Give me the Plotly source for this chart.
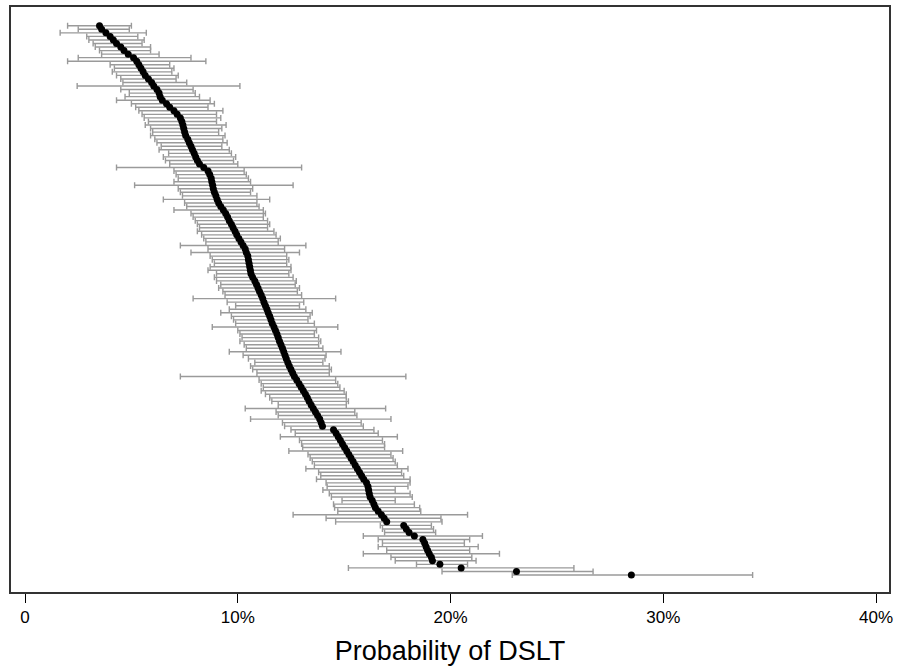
import plotly.graph_objects as go

# Estimated probability of DSLT (%) per unit, sorted ascending (top to bottom)
estimate = [
    3.5, 3.6, 3.8, 4.0, 4.15, 4.3, 4.5, 4.65, 4.85, 5.1,
    5.25, 5.35, 5.45, 5.55, 5.65, 5.8, 5.95, 6.05, 6.2, 6.3,
    6.35, 6.45, 6.65, 6.8, 7.0, 7.15, 7.3, 7.37, 7.42, 7.46,
    7.5, 7.55, 7.65, 7.72, 7.8, 7.87, 7.95, 8.02, 8.1, 8.2,
    8.4, 8.6, 8.68, 8.75, 8.78, 8.82, 8.85, 8.9, 8.97, 9.03,
    9.1, 9.2, 9.32, 9.43, 9.52, 9.6, 9.7, 9.78, 9.87, 9.95,
    10.05, 10.15, 10.25, 10.35, 10.4, 10.47, 10.5, 10.53, 10.56, 10.59,
    10.62, 10.7, 10.8, 10.88, 10.95, 11.02, 11.1, 11.17, 11.23, 11.3,
    11.37, 11.43, 11.5, 11.56, 11.62, 11.7, 11.77, 11.84, 11.9, 11.96,
    12.03, 12.1, 12.16, 12.22, 12.28, 12.35, 12.42, 12.5, 12.58, 12.66,
    12.77, 12.88, 12.98, 13.08, 13.18, 13.27, 13.35, 13.45, 13.55, 13.65,
    13.75, 13.85, 13.92, 13.98, 14.5, 14.62, 14.72, 14.82, 14.92, 15.02,
    15.12, 15.22, 15.32, 15.42, 15.52, 15.62, 15.72, 15.82, 15.92, 16.05,
    16.12, 16.15, 16.18, 16.22, 16.32, 16.4, 16.47, 16.6, 16.75, 16.88,
    17.0, 17.8, 17.92, 18.05, 18.3, 18.7, 18.78, 18.85, 18.92, 19.0,
    19.1, 19.15, 19.5, 20.5, 23.1, 28.5,
]

ci_lower = [
    2.0, 2.5, 1.65, 2.9, 3.0, 3.2, 3.3, 3.5, 3.6, 2.5,
    2.0, 4.0, 4.2, 4.1, 4.3, 4.5, 4.6, 2.45, 4.5, 4.9,
    4.7, 4.3, 5.0, 5.2, 5.35, 5.5, 5.6, 5.8, 5.65, 5.9,
    6.0, 5.9, 6.1, 6.2, 6.4, 6.3, 6.75, 6.5, 6.6, 6.8,
    4.3, 7.0, 7.1, 7.2, 7.0, 5.15, 7.2, 7.3, 7.4, 6.5,
    7.5, 7.6, 7.0, 7.8, 7.9, 8.0, 8.1, 8.2, 8.1, 8.3,
    8.4, 8.5, 7.3, 8.6, 7.8, 8.7, 8.8, 8.9, 8.7, 8.6,
    9.0, 8.9, 9.0, 9.2, 9.1, 9.3, 9.4, 7.9, 9.5, 9.9,
    9.6, 9.2, 9.7, 9.8, 9.9, 8.8, 10.0, 10.1, 10.2, 10.1,
    10.3, 10.4, 9.6, 10.25, 10.5, 10.8, 10.6, 10.7, 10.9, 7.3,
    11.0, 11.1, 11.2, 11.1, 11.3, 11.5, 11.6, 11.9, 10.35, 11.8,
    11.9, 10.6, 12.1, 12.2, 12.5, 12.7, 12.0, 12.9, 13.0, 13.05,
    12.4, 13.3, 13.4, 13.5, 13.6, 13.2, 13.8, 13.9, 13.7, 14.15,
    14.2, 14.0, 14.3, 14.4, 14.9, 14.5, 14.55, 14.7, 12.6, 14.15,
    14.6, 16.7, 16.8, 16.9, 15.9, 16.6, 16.8, 16.6, 17.0, 15.9,
    17.2, 17.4, 18.4, 15.2, 19.6, 22.9,
]

ci_upper = [
    5.0, 4.9, 5.7, 5.3, 5.6, 5.5, 5.9, 5.9, 6.3, 7.8,
    8.5, 6.8, 7.0, 6.9, 7.2, 7.1, 7.6, 10.1, 7.9, 8.0,
    8.2, 8.7, 8.9, 8.6, 9.3, 9.0, 9.2, 9.0, 9.45, 9.25,
    9.1, 9.4, 9.3, 9.5, 9.25, 9.6, 9.7, 9.9, 9.8, 10.0,
    13.0, 10.3, 10.4, 10.5, 10.6, 12.6, 10.7, 10.6, 10.9, 11.5,
    10.9, 11.0, 11.2, 11.3, 11.2, 11.4, 11.5, 11.4, 11.7, 11.8,
    12.0, 11.9, 13.2, 12.2, 12.9, 12.3, 12.4, 12.3, 12.5, 12.5,
    12.4, 12.6, 12.75, 12.7, 12.9, 12.8, 13.0, 14.6, 13.1, 12.9,
    13.2, 13.5, 13.4, 13.3, 13.6, 14.7, 13.7, 13.6, 13.8, 13.9,
    13.8, 14.0, 14.85, 14.15, 14.1, 14.0, 14.3, 14.4, 14.3, 17.9,
    14.6, 14.7, 14.8, 15.0, 15.1, 15.1, 15.2, 15.1, 16.95, 15.5,
    15.6, 17.2, 15.8, 15.9, 16.4, 16.6, 17.5, 16.8, 16.9, 16.9,
    17.75, 17.2, 17.3, 17.4, 17.5, 18.0, 17.7, 17.8, 18.1, 18.1,
    18.0, 17.4, 18.1, 18.2, 17.4, 18.3, 18.55, 18.6, 20.8, 19.55,
    19.6, 19.1, 19.2, 19.3, 21.5, 20.9, 20.65, 21.3, 20.9, 22.3,
    21.0, 21.2, 20.8, 25.8, 26.7, 34.2,
]

tick_values = [0, 10, 20, 30, 40]
tick_labels = ["0", "10%", "20%", "30%", "40%"]
x_title = "Probability of DSLT"

rank = list(range(len(estimate)))
err_plus = [u - e for u, e in zip(ci_upper, estimate)]
err_minus = [e - l for e, l in zip(estimate, ci_lower)]

fig = go.Figure()
fig.add_trace(go.Scatter(
    x=estimate,
    y=rank,
    mode="markers",
    marker=dict(color="black", size=7, symbol="circle"),
    error_x=dict(
        type="data",
        symmetric=False,
        array=err_plus,
        arrayminus=err_minus,
        color="#9a9a9a",
        thickness=1.4,
        width=3,
    ),
    showlegend=False,
    hoverinfo="x",
))

n = len(estimate)
fig.update_layout(
    width=898,
    height=666,
    paper_bgcolor="white",
    plot_bgcolor="white",
    margin=dict(l=11, r=5, t=5, b=73),
    font=dict(family="Liberation Sans, Arial, sans-serif", color="black"),
    xaxis=dict(
        range=[-0.66, 40.61],
        tickvals=tick_values,
        ticktext=tick_labels,
        ticks="outside",
        ticklen=9,
        tickwidth=1.2,
        tickcolor="black",
        tickfont=dict(size=17, color="black"),
        showgrid=False,
        zeroline=False,
        showline=True,
        linecolor="#333333",
        linewidth=1.5,
        mirror=True,
        title=dict(text=x_title, font=dict(size=27, color="black"), standoff=15),
    ),
    yaxis=dict(
        range=[n - 1 + 4.8, -5.3],
        showticklabels=False,
        ticks="",
        showgrid=False,
        zeroline=False,
        showline=True,
        linecolor="#333333",
        linewidth=1.5,
        mirror=True,
    ),
)

fig.write_html(
    "out.html",
    config={"displayModeBar": False},
    post_script="document.body.style.margin='0';document.body.style.overflow='hidden';",
)
